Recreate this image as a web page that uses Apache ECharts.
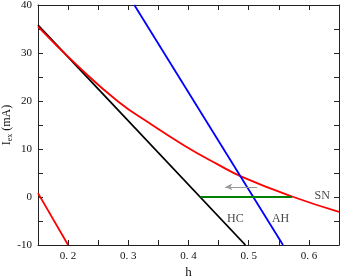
<!DOCTYPE html>
<html><head><meta charset="utf-8">
<script src="https://cdn.jsdelivr.net/npm/echarts@6/dist/echarts.min.js"></script>
<style>html,body{margin:0;padding:0;background:#fff}#c{width:341px;height:278px}</style>
</head><body><div id="c"></div>
<script>
var snH = [0.15, 0.216, 0.283, 0.336, 0.392, 0.447, 0.489, 0.572, 0.65];
var snI = [35.5, 27.3, 19.9, 15.3, 10.8, 6.9, 4.2, 0.1, -3.1];
var sn2H = [0.15, 0.2];
var sn2I = [0.8, -10];
var hcH = [0.15, 0.4945];
var hcI = [35.8, -10];
var ahH = [0.31, 0.557];
var ahI = [40, -10];
var greenH = [0.42, 0.572];
var greenI = [0, 0];
var arrowH = [0.514, 0.461];
var arrowI = [2.1, 2.1];
var labelText = ['SN', 'HC', 'AH'];
var labelH = [0.622, 0.478, 0.553];
var labelI = [0.3, -4.5, -4.5];

function pairs(xs, ys){ return xs.map(function(x,i){return [x, ys[i]];}); }
var font = 'Liberation Serif';
var chart = echarts.init(document.getElementById('c'));
var axisCommon = {
  axisLine:{show:true, onZero:false, lineStyle:{color:'#222', width:1}},
  axisTick:{show:true, inside:true, length:5, lineStyle:{color:'#222'}},
  splitLine:{show:false}
};
chart.setOption({
  animation:false,
  grid:{left:38, right:2, top:5, bottom:33, containLabel:false, outerBoundsMode:'none'},
  xAxis:[
    Object.assign({type:'value', min:0.15, max:0.65, interval:0.05, position:'bottom',
      name:'h', nameLocation:'middle', nameGap:21, nameMoveOverlap:false,
      nameTextStyle:{fontFamily:font, fontSize:13, color:'#111'},
      axisLabel:{fontFamily:font, fontSize:11, color:'#111', margin:6,
        formatter:function(v){var k=Math.round(v*100); return k%10===0 ? (k/100).toFixed(1).replace('.', '. ') : '';}}
    }, axisCommon),
    Object.assign({type:'value', min:0.15, max:0.65, interval:0.05, position:'top',
      axisLabel:{show:false}}, axisCommon)
  ],
  yAxis:[
    Object.assign({type:'value', min:-10, max:40, interval:5, position:'left',
      name:'{i|I}{s|ex}{i| (mA)}', nameLocation:'middle', nameGap:24, nameRotate:90, nameMoveOverlap:false,
      nameTextStyle:{rich:{i:{fontFamily:font, fontSize:12, color:'#111'}, s:{fontFamily:font, fontSize:8, color:'#111', verticalAlign:'bottom', padding:[6,0,0,0]}}},
      axisLabel:{fontFamily:font, fontSize:11, color:'#111', margin:6,
        formatter:function(v){return Math.round(v)%10===0 ? String(Math.round(v)) : '';}}
    }, axisCommon),
    Object.assign({type:'value', min:-10, max:40, interval:5, position:'right',
      axisLabel:{show:false}}, axisCommon)
  ],
  series:[
    {type:'line', data:pairs(hcH, hcI), showSymbol:false, lineStyle:{color:'#000', width:1.8}},
    {type:'line', data:pairs(snH, snI), smooth:0.5, showSymbol:false, lineStyle:{color:'#ff0000', width:1.8}},
    {type:'line', data:pairs(sn2H, sn2I), showSymbol:false, lineStyle:{color:'#ff0000', width:1.8}},
    {type:'line', data:pairs(ahH, ahI), showSymbol:false, lineStyle:{color:'#0000ff', width:1.8}},
    {type:'line', data:pairs(greenH, greenI), showSymbol:false, lineStyle:{color:'#008000', width:2}},
    {type:'line', data:[], markLine:{silent:true, symbol:['none','arrow'], symbolSize:[5,7],
      label:{show:false}, lineStyle:{color:'#999', width:1, type:'solid'},
      data:[[{coord:[arrowH[0], arrowI[0]]},{coord:[arrowH[1], arrowI[1]], itemStyle:{color:'#000'}}]]}},
    {type:'scatter', symbolSize:0, data:labelText.map(function(t,i){return {value:[labelH[i], labelI[i]], name:t};}),
      label:{show:true, position:'inside', formatter:'{b}', fontFamily:font, fontSize:12, color:'#111'}}
  ]
});
</script></body></html>
